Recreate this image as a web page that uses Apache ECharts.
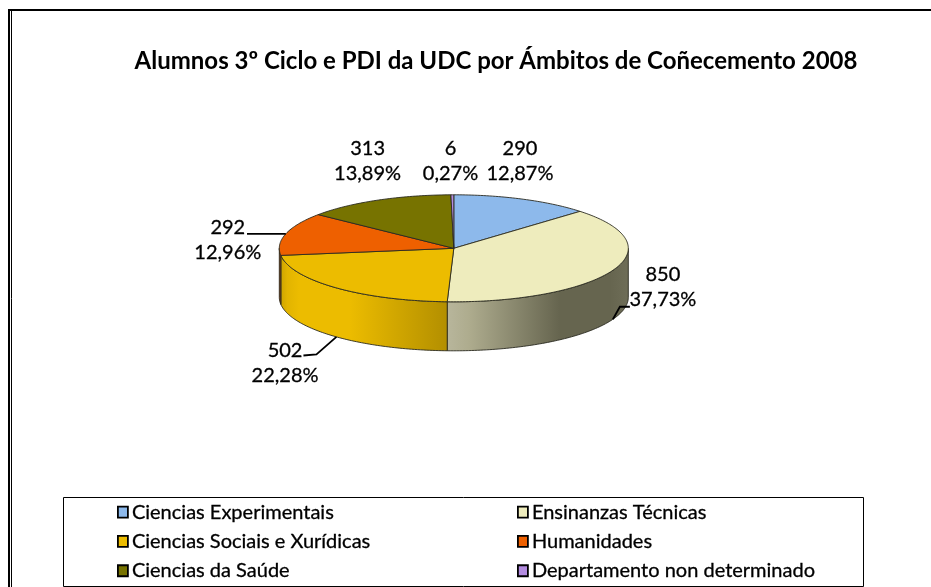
<!DOCTYPE html>
<html><head><meta charset="utf-8">
<style>html,body{margin:0;padding:0;background:#fff}#c{width:931px;height:587px}</style>
<script src="https://cdn.jsdelivr.net/npm/echarts@6/dist/echarts.min.js"></script>
</head><body><div id="c"></div>
<script>
const titleText = 'Alumnos 3º Ciclo e PDI da UDC por Ámbitos de Coñecemento 2008';
const categories = ['Ciencias Experimentais','Ensinanzas Técnicas','Ciencias Sociais e Xurídicas','Humanidades','Ciencias da Saúde','Departamento non determinado'];
const values = [290,850,502,292,313,6];
const topColors = ['#8db9eb','#eeecbd','#ecbc00','#ee6000','#777300','#b38ce0'];
const FONT = 'Lato';
const total = values.reduce((a,b)=>a+b,0);
const cx=453.8, cy=248.3, rx=174.5, ry=53.5, depth=49;
const starts=[]; { let s=0; values.forEach(v=>{starts.push(s); s+=v;}); }
const ang = v => v/total*360;
const px = t => cx+Math.sin(t*Math.PI/180)*rx;
const py = t => cy-Math.cos(t*Math.PI/180)*ry;
const arc = (a,b) => { const p=[]; const n=Math.max(2,Math.ceil(Math.abs(b-a)));
  for(let i=0;i<=n;i++){const t=a+(b-a)*i/n;p.push([px(t),py(t)]);} return p; };
const sideFill = {
  1: {type:'linear',global:true,x:447,y:0,x2:628,y2:0,colorStops:[{offset:0,color:'#b8b69c'},{offset:.12,color:'#aeac8e'},{offset:.62,color:'#66654f'},{offset:.9,color:'#66654f'},{offset:1,color:'#6e6d57'}]},
  2: {type:'linear',global:true,x:279,y:0,x2:447,y2:0,colorStops:[{offset:0,color:'#c9a000'},{offset:.05,color:'#e2b400'},{offset:.12,color:'#ecbc00'},{offset:.42,color:'#ecbc00'},{offset:1,color:'#b38f00'}]},
  3: '#8a3800'
};
// label centre offsets from the slice's rim anchor, and leader-line bends
const labelOffset = [[-2.5,-37.6],[50,-32],[-51.4,26.6],[-58,6.7],[-9.8,-38.7],[-1.8,-33.3]];
const leaderBends = [null,[[7,-12.5],[17,-12.5]],[[-20,17.6],[-33,18.6]],[[-38.8,0]],null,null];
const pct = v => (v/total*100).toFixed(2).replace('.',',');

function renderSlice(i){
  return function(params,api){
    const v=api.value(0);
    const a0=ang(starts[i]), a1=a0+ang(v);
    const ch=[];
    const s0=Math.max(a0,90), s1=Math.min(a1,270);
    if(s1>s0){
      const t=arc(s0,s1), b=t.map(p=>[p[0],p[1]+depth]).reverse();
      ch.push({type:'polygon',shape:{points:t.concat(b)},style:{fill:sideFill[i]||topColors[i],stroke:'#2a2a20',lineWidth:.9}});
    }
    ch.push({type:'polygon',shape:{points:[[cx,cy]].concat(arc(a0,a1))},style:{fill:topColors[i],stroke:'#2a2a20',lineWidth:.9}});
    const m=(a0+a1)/2, front=m>90&&m<270;
    const ax=px(m), ay=py(m)+(front?depth:0);
    if(leaderBends[i]){
      ch.push({type:'polyline',shape:{points:[[ax,ay]].concat(leaderBends[i].map(d=>[ax+d[0],ay+d[1]]))},style:{fill:'none',stroke:'#000',lineWidth:1.8}});
    }
    const o=labelOffset[i];
    ch.push({type:'text',style:{x:ax+o[0],y:ay+o[1],text:v+'\n'+pct(v)+'%',font:'20px '+FONT,lineHeight:25,fill:'#000',stroke:'#000',lineWidth:.3,align:'center',verticalAlign:'middle'}});
    return {type:'group',children:ch};
  };
}
const legendBase={orient:'vertical',icon:'rect',itemWidth:10,itemHeight:11,itemGap:9,padding:0,selectedMode:false,top:502,height:85,
  itemStyle:{borderColor:'#000',borderWidth:1.8},textStyle:{fontFamily:FONT,fontSize:20,color:'#000',textBorderColor:'#000',textBorderWidth:.3,padding:[0,0,0,-1]}};
const chart=echarts.init(document.getElementById('c'),null,{renderer:'canvas'});
chart.setOption({
  animation:false,
  backgroundColor:'#fff',
  title:{text:titleText,left:491,top:44,textAlign:'center',textStyle:{fontFamily:FONT,fontSize:24,fontWeight:'bold',color:'#000'}},
  legend:[
    Object.assign({},legendBase,{left:117,data:[categories[0],categories[2],categories[4]]}),
    Object.assign({},legendBase,{left:517,data:[categories[1],categories[3],categories[5]]})
  ],
  graphic:[
    {type:'line',silent:true,shape:{x1:8,y1:10,x2:931,y2:10},style:{stroke:'#000',lineWidth:2}},
    {type:'line',silent:true,shape:{x1:9,y1:10,x2:9,y2:587},style:{stroke:'#000',lineWidth:2}},
    {type:'line',silent:true,shape:{x1:11.5,y1:10,x2:11.5,y2:587},style:{stroke:'#000',lineWidth:1}},
    {type:'rect',silent:true,shape:{x:63.5,y:497.5,width:800,height:89},style:{fill:'none',stroke:'#000',lineWidth:1}}
  ],
  series:categories.map((name,i)=>({
    type:'custom',name,coordinateSystem:'none',itemStyle:{color:topColors[i]},
    data:[[values[i]]],renderItem:renderSlice(i),silent:true
  }))
});
</script></body></html>
